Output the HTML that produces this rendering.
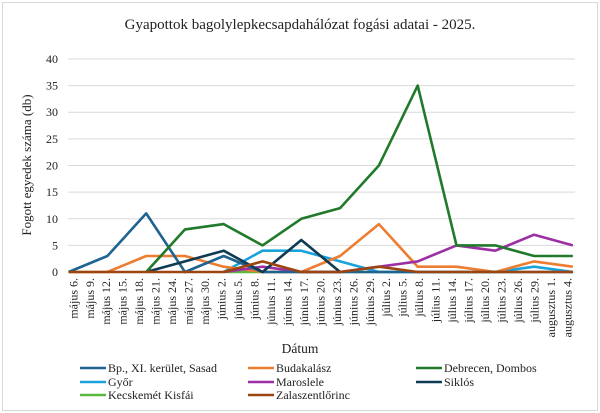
<!DOCTYPE html>
<html><head><meta charset="utf-8"><style>
body{margin:0;background:#fff}
svg{display:block}
text{font-family:"Liberation Serif","DejaVu Serif",serif}
</style></head><body>
<svg width="600" height="413" viewBox="0 0 600 413" xmlns="http://www.w3.org/2000/svg" font-family="Liberation Serif, serif">
<rect x="2.5" y="2.5" width="595" height="408" fill="#fff" stroke="#d9d9d9"/>
<text x="300" y="29" font-size="15" text-anchor="middle" fill="#222">Gyapottok bagolylepkecsapdahálózat fogási adatai - 2025.</text>
<g stroke="#d9d9d9" stroke-width="1">
<line x1="68" x2="575" y1="59" y2="59"/><line x1="68" x2="575" y1="85.6" y2="85.6"/>
<line x1="68" x2="575" y1="112.2" y2="112.2"/><line x1="68" x2="575" y1="138.9" y2="138.9"/>
<line x1="68" x2="575" y1="165.5" y2="165.5"/><line x1="68" x2="575" y1="192.1" y2="192.1"/>
<line x1="68" x2="575" y1="218.8" y2="218.8"/><line x1="68" x2="575" y1="245.4" y2="245.4"/>
<line x1="68" x2="575" y1="272" y2="272"/>
</g>
<g font-size="12" text-anchor="end" fill="#222">
<text x="58" y="63">40</text><text x="58" y="89.6">35</text><text x="58" y="116.2">30</text>
<text x="58" y="142.9">25</text><text x="58" y="169.5">20</text><text x="58" y="196.1">15</text>
<text x="58" y="222.8">10</text><text x="58" y="249.4">5</text><text x="58" y="276">0</text>
</g>
<text transform="translate(31,165) rotate(-90)" font-size="13" text-anchor="middle" fill="#222">Fogott egyedek száma (db)</text>
<text x="300" y="353" font-size="13.5" text-anchor="middle" fill="#222">Dátum</text>
<g font-size="12" fill="#222">
<line x1="80" x2="106" y1="368" y2="368" stroke="#1f6391" stroke-width="2.6"/><text x="108" y="372">Bp., XI. kerület, Sasad</text>
<line x1="248" x2="274" y1="368" y2="368" stroke="#ed7d31" stroke-width="2.6"/><text x="276" y="372">Budakalász</text>
<line x1="416" x2="442" y1="368" y2="368" stroke="#217a2b" stroke-width="2.6"/><text x="444" y="372">Debrecen, Dombos</text>
<line x1="80" x2="106" y1="382" y2="382" stroke="#1aa3db" stroke-width="2.6"/><text x="108" y="386">Győr</text>
<line x1="248" x2="274" y1="382" y2="382" stroke="#9c2fa3" stroke-width="2.6"/><text x="276" y="386">Maroslele</text>
<line x1="416" x2="442" y1="382" y2="382" stroke="#0e3a52" stroke-width="2.6"/><text x="444" y="386">Siklós</text>
<line x1="80" x2="106" y1="395" y2="395" stroke="#5cb83e" stroke-width="2.6"/><text x="108" y="399">Kecskemét Kisfái</text>
<line x1="248" x2="274" y1="395" y2="395" stroke="#9c4511" stroke-width="2.6"/><text x="276" y="399">Zalaszentlőrinc</text>
</g>
<g font-size="12" text-anchor="end" fill="#222">
<text transform="translate(77.3,278) rotate(-90)">május 6.</text>
<text transform="translate(93.8,278) rotate(-90)">május 9.</text>
<text transform="translate(110.2,278) rotate(-90)">május 12.</text>
<text transform="translate(126.7,278) rotate(-90)">május 15.</text>
<text transform="translate(143.2,278) rotate(-90)">május 18.</text>
<text transform="translate(159.7,278) rotate(-90)">május 21.</text>
<text transform="translate(176.1,278) rotate(-90)">május 24.</text>
<text transform="translate(192.6,278) rotate(-90)">május 27.</text>
<text transform="translate(209.1,278) rotate(-90)">május 30.</text>
<text transform="translate(225.5,278) rotate(-90)">június 2.</text>
<text transform="translate(242,278) rotate(-90)">június 5.</text>
<text transform="translate(258.5,278) rotate(-90)">június 8.</text>
<text transform="translate(274.9,278) rotate(-90)">június 11.</text>
<text transform="translate(291.4,278) rotate(-90)">június 14.</text>
<text transform="translate(307.9,278) rotate(-90)">június 17.</text>
<text transform="translate(324.4,278) rotate(-90)">június 20.</text>
<text transform="translate(340.8,278) rotate(-90)">június 23.</text>
<text transform="translate(357.3,278) rotate(-90)">június 26.</text>
<text transform="translate(373.8,278) rotate(-90)">június 29.</text>
<text transform="translate(390.2,278) rotate(-90)">július 2.</text>
<text transform="translate(406.7,278) rotate(-90)">július 5.</text>
<text transform="translate(423.2,278) rotate(-90)">július 8.</text>
<text transform="translate(439.6,278) rotate(-90)">július 11.</text>
<text transform="translate(456.1,278) rotate(-90)">július 14.</text>
<text transform="translate(472.6,278) rotate(-90)">július 17.</text>
<text transform="translate(489.1,278) rotate(-90)">július 20.</text>
<text transform="translate(505.5,278) rotate(-90)">július 23.</text>
<text transform="translate(522,278) rotate(-90)">július 26.</text>
<text transform="translate(538.5,278) rotate(-90)">július 29.</text>
<text transform="translate(554.9,278) rotate(-90)">augusztus 1.</text>
<text transform="translate(571.4,278) rotate(-90)">augusztus 4.</text>
</g>
<g fill="none" stroke-width="2.6" stroke-linejoin="round">
<polyline stroke="#5cb83e" points="223.7,272 262.5,272 301.3,272 340.1,272 378.9,272 417.7,272"/>
<polyline stroke="#1aa3db" points="223.7,272 262.5,250.7 301.3,250.7 340.1,261.4 378.9,272 417.7,272 456.5,272 495.3,272 534.1,266.7 572.8,272"/>
<polyline stroke="#ed7d31" points="68.6,272 107.4,272 146.2,256 185,256 223.7,266.7 262.5,272 301.3,272 340.1,256 378.9,224.1 417.7,266.7 456.5,266.7 495.3,272 534.1,261.4 572.8,266.7"/>
<polyline stroke="#9c2fa3" points="223.7,272 262.5,266.7 301.3,272 340.1,272 378.9,266.7 417.7,261.4 456.5,245.4 495.3,250.7 534.1,234.7 572.8,245.4"/>
<polyline stroke="#1f6391" points="68.6,272 107.4,256 146.2,213.4 185,272 223.7,256 262.5,272 301.3,272 340.1,272 378.9,272 417.7,272 456.5,272 495.3,272 534.1,272 572.8,272"/>
<polyline stroke="#0e3a52" points="146.2,272 185,261.4 223.7,250.7 262.5,272 301.3,240 340.1,272"/>
<polyline stroke="#217a2b" points="146.2,272 185,229.4 223.7,224.1 262.5,245.4 301.3,218.8 340.1,208.1 378.9,165.5 417.7,85.6 456.5,245.4 495.3,245.4 534.1,256 572.8,256"/>
<polyline stroke="#9c4511" points="68.6,272 107.4,272 146.2,272 185,272 223.7,272 262.5,261.4 301.3,272 340.1,272 378.9,266.7 417.7,272 456.5,272 495.3,272 534.1,272 572.8,272"/>
</g>
</svg>
</body></html>
